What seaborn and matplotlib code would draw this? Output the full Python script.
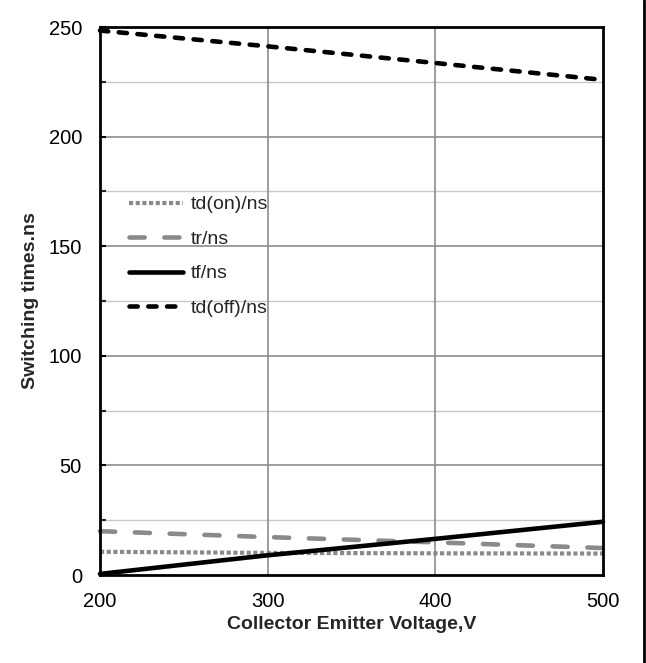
import numpy as np
import pandas as pd
import matplotlib
matplotlib.use('Agg')
import matplotlib.pyplot as plt
import seaborn as sns
from matplotlib.lines import Line2D
from matplotlib.ticker import MultipleLocator

sns.set_style('white')
plt.rcParams['font.family'] = ['Liberation Sans', 'DejaVu Sans']

# data
voltage = [200, 300, 400, 500]
td_on = [10.6, 10.1, 9.9, 9.8]
tr = [20, 17.3, 14.9, 12.3]
tf = [0.5, 9, 16.5, 24.3]
td_off = [248.4, 241.2, 233.6, 225.9]
names = ['td(on)/ns', 'tr/ns', 'tf/ns', 'td(off)/ns']

df = pd.DataFrame({'V': voltage, names[0]: td_on, names[1]: tr,
                   names[2]: tf, names[3]: td_off})
long = df.melt(id_vars='V', var_name='series', value_name='t')

GREY = '#8a8a8a'
# colour, linewidth, dash pattern, capstyle
styles = {'td(on)/ns': (GREY, 3.0, (0, (1.0, 0.6)), 'butt'),
          'tr/ns': (GREY, 3.3, (0, (3.3, 4.3)), 'round'),
          'tf/ns': ('black', 3.3, '-', 'butt'),
          'td(off)/ns': ('black', 3.3, (0, (1.8, 2.3)), 'round')}

fig = plt.figure(figsize=(6.46, 6.63), dpi=100)
ax = fig.add_axes([0.1548, 0.1327, 0.7786, 0.8265])

# gridlines
for y in range(25, 250, 50):
    ax.axhline(y, color='#c8c8c8', lw=1, zorder=0)
for y in range(50, 250, 50):
    ax.axhline(y, color='#8c8c8c', lw=1.2, zorder=0)
for x in [300, 400]:
    ax.axvline(x, color='#8c8c8c', lw=1.2, zorder=0)

for name in names:
    sub = long[long['series'] == name]
    c, lw, ls, cap = styles[name]
    sns.lineplot(data=sub, x='V', y='t', ax=ax, color=c, lw=lw,
                 label=name, clip_on=False)
for line, name in zip(ax.get_lines()[-4:], names):
    line.set_linestyle(styles[name][2])
    line.set_dash_capstyle(styles[name][3])

ax.set_xlim(200, 500)
ax.set_ylim(0, 250)
ax.set_xticks([200, 300, 400, 500])
ax.set_yticks([0, 50, 100, 150, 200, 250])
ax.yaxis.set_minor_locator(MultipleLocator(25))
ax.tick_params(axis='both', labelsize=14.5, colors='black')
ax.tick_params(axis='y', which='both', direction='in', length=4, width=1.5,
               pad=13, left=True)
ax.tick_params(axis='x', length=0, pad=12)
for sp in ax.spines.values():
    sp.set_color('black')
    sp.set_linewidth(2)

ax.set_xlabel('Collector Emitter Voltage,V', fontsize=14, fontweight='bold',
              labelpad=4)
ax.set_ylabel('Switching times.ns', fontsize=14, fontweight='bold', labelpad=7)

leg = ax.legend(loc='upper left', bbox_to_anchor=(0.058, 0.692), frameon=False,
                fontsize=14, handlelength=2.75, handletextpad=0.4,
                labelspacing=0.87, borderaxespad=0, borderpad=0)
for h, name in zip(leg.get_lines(), names):
    h.set_linestyle(styles[name][2])
    h.set_dash_capstyle(styles[name][3])

# frame line on the right edge of the picture
fig.add_artist(Line2D([0.9969, 0.9969], [0, 1], color='black', lw=2,
                      transform=fig.transFigure))

plt.savefig('out.png', dpi=100)
